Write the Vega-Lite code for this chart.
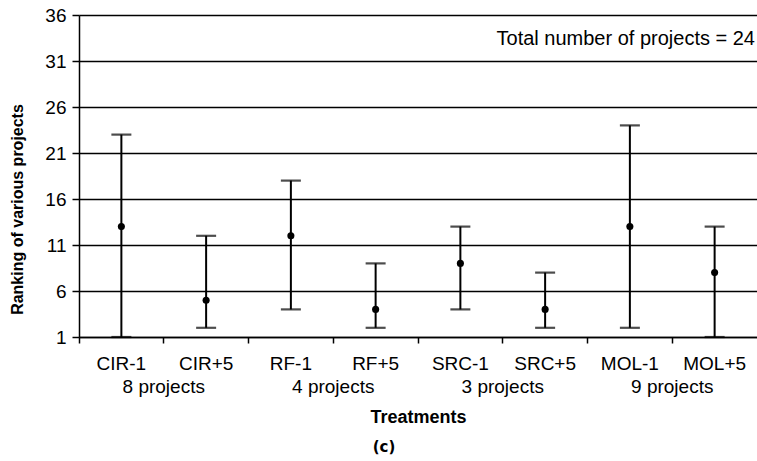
{
  "$schema": "https://vega.github.io/schema/vega-lite/v6.json",
  "width": 678,
  "height": 322,
  "autosize": {"type": "none"},
  "padding": {"left": 79, "top": 15, "right": 0, "bottom": 124},
  "background": "white",
  "config": {
    "view": {"stroke": null},
    "font": "Liberation Sans",
    "axis": {"labelColor": "black", "titleColor": "black", "domainColor": "black", "tickColor": "black", "labelFont": "Liberation Sans", "titleFont": "Liberation Sans"}
  },
  "title": {"text": "(c)", "orient": "bottom", "anchor": "middle", "dx": -34, "offset": 14, "fontSize": 15, "fontWeight": "bold", "font": "DejaVu Sans", "color": "black"},
  "resolve": {"scale": {"x": "independent"}, "axis": {"x": "independent"}},
  "layer": [
    {
      "encoding": {
        "x": {"field": "treatment", "type": "nominal", "sort": null,
          "scale": {"type": "band", "paddingInner": 0, "paddingOuter": 0},
          "axis": {"title": null, "labelAngle": 0, "labelFontSize": 19, "labelPadding": 11, "tickSize": 6, "tickWidth": 1.5, "bandPosition": 0, "domainWidth": 1.5, "grid": false, "labelBound": false}
        }
      },
      "layer": [
        {
          "data": {"values": [
            {"treatment": "CIR-1", "low": 1, "high": 23, "mean": 13},
            {"treatment": "CIR+5", "low": 2, "high": 12, "mean": 5},
            {"treatment": "RF-1", "low": 4, "high": 18, "mean": 12},
            {"treatment": "RF+5", "low": 2, "high": 9, "mean": 4},
            {"treatment": "SRC-1", "low": 4, "high": 13, "mean": 9},
            {"treatment": "SRC+5", "low": 2, "high": 8, "mean": 4},
            {"treatment": "MOL-1", "low": 2, "high": 24, "mean": 13},
            {"treatment": "MOL+5", "low": 1, "high": 13, "mean": 8}
          ]},
          "layer": [
            {
              "mark": {"type": "rule", "color": "black", "strokeWidth": 2},
              "encoding": {
                "y": {"field": "low", "type": "quantitative",
                  "scale": {"domain": [1, 36], "nice": false, "zero": false},
                  "axis": {"title": "Ranking of various projects", "titleFontSize": 16, "titleFontWeight": "bold", "titlePadding": 19, "titleY": 194, "values": [1, 6, 11, 16, 21, 26, 31, 36], "labelFontSize": 19, "labelPadding": 6, "tickSize": 7, "tickWidth": 1.5, "grid": true, "gridColor": "black", "gridWidth": 1.3, "gridOpacity": 1, "domainWidth": 1.5}
                },
                "y2": {"field": "high"}
              }
            },
            {
              "mark": {"type": "tick", "color": "black", "orient": "horizontal", "size": 20, "thickness": 2.2},
              "encoding": {"y": {"field": "high", "type": "quantitative"}}
            },
            {
              "mark": {"type": "tick", "color": "black", "orient": "horizontal", "size": 20, "thickness": 2.2},
              "encoding": {"y": {"field": "low", "type": "quantitative"}}
            },
            {
              "mark": {"type": "point", "filled": true, "color": "black", "size": 50, "opacity": 1},
              "encoding": {"y": {"field": "mean", "type": "quantitative"}}
            }
          ]
        },
        {
          "data": {"values": [{"note": "Total number of projects = 24"}]},
          "mark": {"type": "text", "align": "right", "baseline": "middle", "fontSize": 20, "color": "black", "dx": -2},
          "encoding": {
            "x": {"datum": "MOL+5", "bandPosition": 1},
            "y": {"datum": 33.4},
            "text": {"field": "note"}
          }
        }
      ]
    },
    {
      "data": {"values": [
        {"group": "8 projects"},
        {"group": "4 projects"},
        {"group": "3 projects"},
        {"group": "9 projects"}
      ]},
      "mark": {"type": "point", "opacity": 0},
      "encoding": {
        "x": {"field": "group", "type": "nominal", "sort": null,
          "scale": {"type": "band", "paddingInner": 0, "paddingOuter": 0},
          "axis": {"orient": "bottom", "offset": 38, "domain": false, "ticks": false, "labelAngle": 0, "labelFontSize": 19, "labelPadding": 2, "title": "Treatments", "titleFontSize": 18, "titleFontWeight": "bold", "titlePadding": 12}
        },
        "y": {"datum": 1}
      }
    }
  ]
}
